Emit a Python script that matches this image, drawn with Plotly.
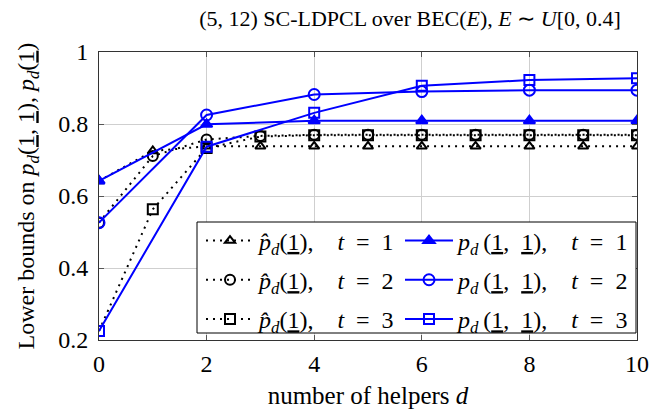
import plotly.graph_objects as go

x_all = [0, 1, 2, 3, 4, 5, 6, 7, 8, 9, 10]
x_even = [0, 2, 4, 6, 8, 10]

hat_t1 = [0.642, 0.725, 0.738, 0.738, 0.738, 0.738, 0.738, 0.738, 0.738, 0.738, 0.738]
hat_t2 = [0.526, 0.711, 0.757, 0.767, 0.770, 0.770, 0.770, 0.770, 0.770, 0.770, 0.770]
hat_t3 = [0.225, 0.563, 0.733, 0.765, 0.769, 0.769, 0.769, 0.769, 0.769, 0.769, 0.769]

p_t1 = [0.642, 0.799, 0.809, 0.809, 0.809, 0.809]
p_t2 = [0.526, 0.825, 0.882, 0.890, 0.894, 0.894]
p_t3 = [0.225, 0.737, 0.831, 0.906, 0.922, 0.927]

FONT = "Liberation Serif"
BLUE = "rgb(0,0,255)"
EM, EN, TH = "\u2003", "\u2002", "\u2009"

HAT = "<i>p̂<sub>d</sub></i>(<u>1</u>)," + EM + "<i>t</i>" + EN + "=" + EN + "{}"
PD = "<i>p<sub>d</sub></i>" + TH + "(<u>1</u>," + EN + "<u>1</u>)," + EM + "<i>t</i>" + EN + "=" + EN + "{}"

fig = go.Figure()

series = [
    (x_all, hat_t1, "black", "2px,5px", "triangle-up-open", 9, HAT.format(1), "legend"),
    (x_all, hat_t2, "black", "2px,5px", "circle-open", 10, HAT.format(2), "legend"),
    (x_all, hat_t3, "black", "2px,5px", "square-open", 10, HAT.format(3), "legend"),
    (x_even, p_t1, BLUE, "solid", "triangle-up", 10, PD.format(1), "legend2"),
    (x_even, p_t2, BLUE, "solid", "circle-open", 11, PD.format(2), "legend2"),
    (x_even, p_t3, BLUE, "solid", "square-open", 10, PD.format(3), "legend2"),
]

for i, (xs, ys, col, dash, sym, sz, name, leg) in enumerate(series):
    fig.add_trace(go.Scatter(
        x=xs, y=ys, mode="lines+markers", name=name,
        line=dict(color=col, width=2, dash=dash),
        marker=dict(symbol=sym, size=sz, color=col,
                    line=dict(color=col, width=2)),
        legend=leg, legendgroup="g%d" % i,
    ))

axis_common = dict(
    showline=True, linecolor="#333", linewidth=1, mirror="ticks",
    ticks="inside", ticklen=5, tickcolor="#555",
    showgrid=True, gridcolor="#cfcfcf", gridwidth=1,
    zeroline=False, automargin=False,
    tickfont=dict(family=FONT, size=24, color="black"),
)

legend_common = dict(
    orientation="v", yanchor="top", y=0.422,
    bgcolor="rgba(0,0,0,0)", borderwidth=0,
    font=dict(family=FONT, size=24, color="black"),
    tracegroupgap=5, itemwidth=48,
)

fig.update_layout(
    width=668, height=414,
    margin=dict(l=99, r=31, t=52, b=74),
    paper_bgcolor="white", plot_bgcolor="white",
    font=dict(family=FONT, color="black"),
    title=dict(
        text="(5, 12) SC-LDPCL over BEC(<i>E</i>), <i>E</i> ∼ <i>U</i>[0, 0.4]",
        x=410 / 668, xanchor="center", xref="container", y=0.955, yanchor="middle",
        font=dict(family=FONT, size=22, color="black"),
    ),
    xaxis=dict(range=[0, 10], tickvals=[0, 2, 4, 6, 8, 10],
               ticklabelstandoff=2,
               title=dict(text="number of helpers <i>d</i>", standoff=10,
                          font=dict(family=FONT, size=25)),
               **axis_common),
    yaxis=dict(range=[0.2, 1.0], tickvals=[0.2, 0.4, 0.6, 0.8, 1.0],
               ticktext=["0.2", "0.4", "0.6", "0.8", "1"],
               ticklabelstandoff=5,
               title=dict(text="Lower bounds on <i>p<sub>d</sub></i>(<u>1</u>, <u>1</u>), <i>p<sub>d</sub></i>(<u>1</u>)",
                          standoff=16, font=dict(family=FONT, size=24)),
               **axis_common),
    legend=dict(x=(201 - 99) / 538, xanchor="left", **legend_common),
    legend2=dict(x=(400 - 99) / 538, xanchor="left", **legend_common),
    showlegend=True,
    shapes=[dict(type="rect", xref="paper", yref="paper",
                 x0=(197 - 99) / 538, x1=(636 - 99) / 538,
                 y0=(340 - 333) / 288, y1=(340 - 222) / 288,
                 line=dict(color="black", width=1), fillcolor="white",
                 layer="above")],
)

fig.write_html("out.html", config={"displayModeBar": False},
               post_script="document.body.style.margin='0';")
